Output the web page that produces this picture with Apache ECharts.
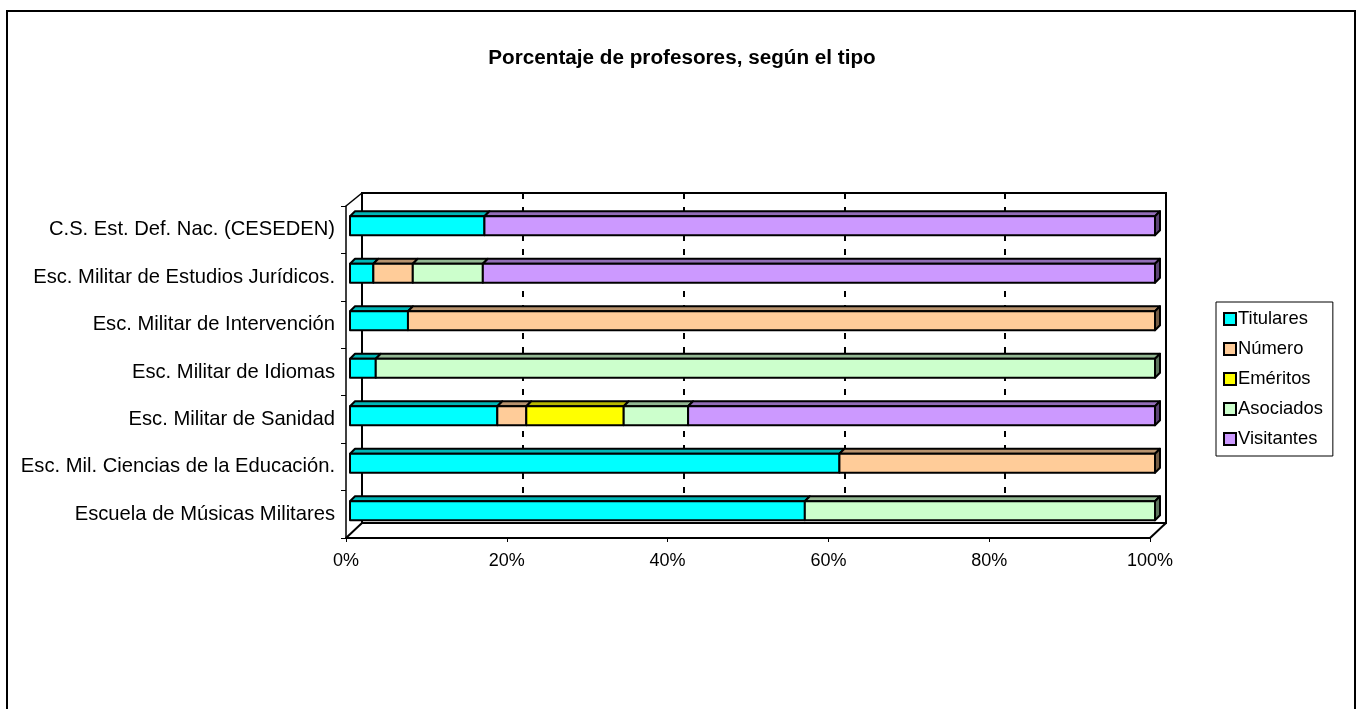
<!DOCTYPE html>
<html>
<head>
<meta charset="utf-8">
<script src="https://cdn.jsdelivr.net/npm/echarts@6/dist/echarts.min.js"></script>
<style>
  html, body { margin: 0; padding: 0; background: #fff; }
  #chart { width: 1364px; height: 709px; }
</style>
</head>
<body>
<div id="chart"></div>
<script>
// categorias, de arriba a abajo
const categories = [
  'C.S. Est. Def. Nac. (CESEDEN)',
  'Esc. Militar de Estudios Jurídicos.',
  'Esc. Militar de Intervención',
  'Esc. Militar de Idiomas',
  'Esc. Militar de Sanidad',
  'Esc. Mil. Ciencias de la Educación.',
  'Escuela de Músicas Militares'
]
const seriesNames = ['Titulares', 'Número', 'Eméritos', 'Asociados', 'Visitantes']
// porcentajes (%)
const titulares  = [16.7, 2.9, 7.2, 3.2, 18.3, 60.8, 56.5]
const numero     = [0, 4.9, 92.8, 0, 3.6, 39.2, 0]
const emeritos   = [0, 0, 0, 0, 12.1, 0, 0]
const asociados  = [0, 8.7, 0, 96.8, 8.0, 0, 43.5]
const visitantes = [83.3, 83.5, 0, 0, 58.0, 0, 0]
const xTicks = [0, 20, 40, 60, 80, 100]

const colors = ['#00FFFF', '#FFCC99', '#FFFF00', '#CCFFCC', '#CC99FF']
const values = [titulares, numero, emeritos, asociados, visitantes]

const DX = 5, DY = 5, BAR_H = 19
const font = 'Liberation Sans, Arial, Helvetica, sans-serif'

function shade (hex, k) {
  const n = parseInt(hex.slice(1), 16)
  const r = Math.round(((n >> 16) & 255) * k)
  const g = Math.round(((n >> 8) & 255) * k)
  const b = Math.round((n & 255) * k)
  return 'rgb(' + r + ',' + g + ',' + b + ')'
}

// acumulado para apilar
const cum = categories.map(() => 0)
const series = values.map((vals, si) => {
  const data = vals.map((v, ci) => {
    const s = cum[ci]
    cum[ci] += v
    return [ci, s, s + v]
  })
  const color = colors[si]
  return {
    type: 'custom',
    name: seriesNames[si],
    xAxisIndex: 0,
    yAxisIndex: 0,
    z: 10 + si,
    itemStyle: { color: color },
    data: data,
    encode: { x: [1, 2], y: 0 },
    renderItem: function (params, api) {
      const ci = api.value(0)
      const s = api.value(1)
      const e = api.value(2)
      if (e - s <= 0) return
      const p0 = api.coord([s, ci])
      const p1 = api.coord([e, ci])
      const x0 = p0[0], x1 = p1[0]
      const top = p0[1] - BAR_H / 2
      const line = { stroke: '#000', lineWidth: 2, lineJoin: 'round' }
      const children = [
        {
          type: 'polygon',
          shape: { points: [[x0, top], [x0 + DX, top - DY], [x1 + DX, top - DY], [x1, top]] },
          style: Object.assign({ fill: shade(color, 0.72) }, line)
        },
        {
          type: 'rect',
          shape: { x: x0, y: top, width: x1 - x0, height: BAR_H },
          style: Object.assign({ fill: color }, line)
        }
      ]
      if (e >= 99.9) {
        children.push({
          type: 'polygon',
          shape: { points: [[x1, top], [x1 + DX, top - DY], [x1 + DX, top - DY + BAR_H], [x1, top + BAR_H]] },
          style: Object.assign({ fill: shade(color, 0.45) }, line)
        })
      }
      return { type: 'group', children: children }
    }
  }
})

const chart = echarts.init(document.getElementById('chart'))

const option = {
  backgroundColor: '#fff',
  animation: false,
  title: {
    text: 'Porcentaje de profesores, según el tipo',
    left: 'center',
    top: 43,
    textStyle: { fontFamily: font, fontSize: 20.7, fontWeight: 'bold', color: '#000' }
  },
  legend: {
    orient: 'vertical',
    left: 1216,
    top: 302,
    width: 113,
    padding: [7, 10, 7, 7],
    itemGap: 10,
    itemWidth: 12,
    itemHeight: 12,
    borderColor: '#000',
    borderWidth: 1,
    textStyle: { fontFamily: font, fontSize: 18.4, color: '#000', padding: [0, 0, 0, -3], lineHeight: 20 },
    data: seriesNames.map((n, i) => ({
      name: n,
      icon: 'rect',
      itemStyle: { color: colors[i], borderColor: '#000', borderWidth: 2 }
    }))
  },
  grid: [
    // barras
    { left: 350, right: 209, top: 202, height: 332.5 },
    // plano frontal (ejes)
    { left: 346, right: 214, top: 206, bottom: 171 },
    // pared del fondo
    { left: 362, right: 198, top: 193, bottom: 186, show: true, borderColor: '#000', borderWidth: 2 }
  ],
  xAxis: [
    { gridIndex: 0, type: 'value', min: 0, max: 100, show: false },
    {
      gridIndex: 1, type: 'value', min: xTicks[0], max: xTicks[xTicks.length - 1], interval: 20,
      axisLine: { show: true, lineStyle: { color: '#000', width: 2 } },
      axisTick: { show: true, length: 4, lineStyle: { color: '#000', width: 1 } },
      splitLine: { show: false },
      axisLabel: { formatter: '{value}%', fontFamily: font, fontSize: 18, color: '#000', margin: 14 }
    },
    {
      gridIndex: 2, type: 'value', min: 0, max: 100, interval: 20,
      axisLine: { show: true, lineStyle: { color: '#000', width: 2 } },
      axisTick: { show: false },
      axisLabel: { show: false },
      splitLine: { show: true, lineStyle: { color: '#000', width: 2, type: [6, 8] } }
    }
  ],
  yAxis: [
    { gridIndex: 0, type: 'category', data: categories, inverse: true, show: false },
    {
      gridIndex: 1, type: 'category', data: categories, inverse: true,
      axisLine: { show: true, lineStyle: { color: '#000', width: 1.5 } },
      axisTick: { show: true, length: 5, lineStyle: { color: '#000' } },
      axisLabel: { fontFamily: font, fontSize: 20.2, color: '#000', margin: 11 },
      splitLine: { show: false }
    },
    {
      gridIndex: 2, type: 'value', show: true,
      axisLine: { show: true, lineStyle: { color: '#000', width: 2 } },
      axisTick: { show: false },
      axisLabel: { show: false },
      splitLine: { show: false }
    }
  ],
  graphic: [
    // marco exterior
    { type: 'rect', shape: { x: 7, y: 11, width: 1348, height: 720 }, style: { fill: 'none', stroke: '#000', lineWidth: 2 }, z: 0 },
    // aristas diagonales del 3D
    { type: 'line', shape: { x1: 346, y1: 206, x2: 362, y2: 193 }, style: { stroke: '#000', lineWidth: 1.5 } },
    { type: 'line', shape: { x1: 346, y1: 538, x2: 362, y2: 523 }, style: { stroke: '#000', lineWidth: 2 } },
    { type: 'line', shape: { x1: 1150, y1: 538, x2: 1166, y2: 523 }, style: { stroke: '#000', lineWidth: 2 } }
  ],
  series: series
}

chart.setOption(option)
</script>
</body>
</html>
